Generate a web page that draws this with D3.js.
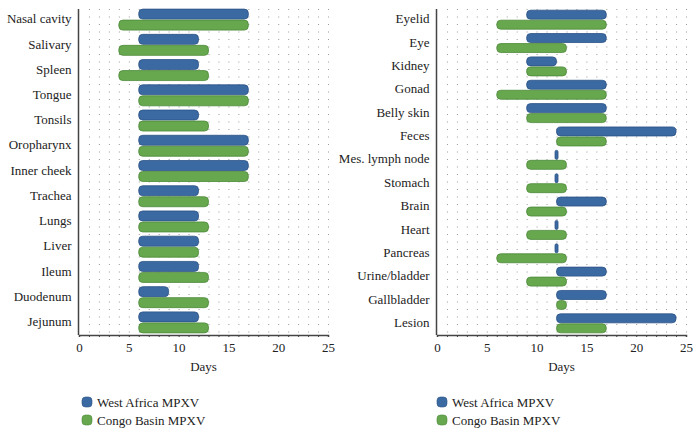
<!DOCTYPE html>
<html>
<head>
<meta charset="utf-8">
<script src="https://cdn.jsdelivr.net/npm/d3@7"></script>
</head>
<body style="margin:0;background:#fff">
<svg id="chart" width="700" height="432"></svg>
<script>
// ---- data (days) ----
const leftCategories = ["Nasal cavity","Salivary","Spleen","Tongue","Tonsils","Oropharynx","Inner cheek","Trachea","Lungs","Liver","Ileum","Duodenum","Jejunum"];
const leftWestStart  = [6,6,6,6,6,6,6,6,6,6,6,6,6];
const leftWestEnd    = [17,12,12,17,12,17,17,12,12,12,12,9,12];
const leftCongoStart = [4,4,4,6,6,6,6,6,6,6,6,6,6];
const leftCongoEnd   = [17,13,13,17,13,17,17,13,13,12,13,13,13];

const rightCategories = ["Eyelid","Eye","Kidney","Gonad","Belly skin","Feces","Mes. lymph node","Stomach","Brain","Heart","Pancreas","Urine/bladder","Gallbladder","Lesion"];
const rightWestStart  = [9,9,9,9,9,12,12,12,12,12,12,12,12,12];
const rightWestEnd    = [17,17,12,17,17,24,12,12,17,12,12,17,17,24];
const rightCongoStart = [6,6,9,6,9,12,9,9,9,9,6,9,12,12];
const rightCongoEnd   = [17,13,13,17,17,17,13,13,13,13,13,13,13,17];

const dayTicks = [0,5,10,15,20,25];
const seriesNames = ["West Africa MPXV","Congo Basin MPXV"];
const seriesColors = ["#3b6aa3","#67a74e"];
const seriesStroke = ["#2b5285","#4d8a3a"];

const FONT = "Liberation Serif";
const svg = d3.select("#chart");

function panel(cfg) {
  const g = svg.append("g");
  const x = d3.scaleLinear().domain([0,25]).range([cfg.x0, cfg.x1]);
  const y = d3.scaleBand().domain(cfg.cats).range([cfg.y0, cfg.y1]).padding(0);

  // dotted grid
  const gridDays = d3.range(1, 26);
  g.append("g").selectAll("line").data(gridDays).join("line")
    .attr("x1", d => x(d) + 0.5).attr("x2", d => x(d) + 0.5)
    .attr("y1", 9).attr("y2", cfg.y1)
    .attr("stroke", "#9a9a9a").attr("stroke-width", 1)
    .attr("stroke-dasharray", "1,6.5");

  const bh = cfg.barH, gap = 1;
  const rows = cfg.cats.map((c, i) => ({c, ws: cfg.ws[i], we: cfg.we[i], cs: cfg.cs[i], ce: cfg.ce[i]}));

  function bars(key0, key1, idx, offset) {
    g.append("g").selectAll("rect").data(rows).join("rect")
      .attr("x", d => { const w = x(d[key1]) - x(d[key0]); return w < 3 ? x(d[key0]) - 1.5 : x(d[key0]); })
      .attr("width", d => Math.max(3, x(d[key1]) - x(d[key0])))
      .attr("y", d => y(d.c) + y.bandwidth()/2 + offset)
      .attr("height", bh)
      .attr("rx", d => Math.min(4, Math.max(3, x(d[key1]) - x(d[key0]))/2))
      .attr("fill", seriesColors[idx])
      .attr("stroke", seriesStroke[idx]).attr("stroke-width", 0.8);
  }
  bars("ws","we",0, -bh - gap/2 + cfg.shift);
  bars("cs","ce",1, gap/2 + cfg.shift);

  // axes
  const ax = g.append("g").attr("transform", `translate(0,${cfg.y1 + 0.5})`)
    .call(d3.axisBottom(x).tickValues(d3.range(0,26)).tickSize(2)
      .tickFormat(d => dayTicks.includes(d) ? d : ""));
  ax.attr("font-family", FONT).attr("font-size", 13);
  ax.select(".domain").attr("stroke", "#444").attr("stroke-width", 1.5);
  ax.selectAll(".tick line").attr("stroke", "#444");
  ax.selectAll(".tick text").attr("font-size", 13).attr("dy", "0.95em")
    .attr("font-family", FONT).attr("fill", "#222");

  const ay = g.append("g").attr("transform", `translate(${cfg.x0 - 0.5},0)`)
    .call(d3.axisLeft(y).tickSize(0).tickPadding(7));
  ay.attr("font-family", FONT).attr("font-size", 13);
  ay.select(".domain").attr("stroke", "#444").attr("stroke-width", 1.5)
    .attr("d", `M0,9V${cfg.y1 + 0.5}`);
  ay.selectAll(".tick text").attr("font-size", 13)
    .attr("font-family", FONT).attr("fill", "#222");

  g.append("text").attr("x", (cfg.x0 + cfg.x1)/2).attr("y", 371)
    .attr("text-anchor", "middle").attr("font-size", 13).attr("fill", "#222")
    .attr("font-family", FONT).text("Days");

  // legend
  const lg = g.append("g").attr("transform", `translate(${cfg.legX},0)`);
  seriesNames.forEach((n, i) => {
    const cy = 402 + i * 18;
    lg.append("rect").attr("x", 0).attr("y", cy - 5).attr("width", 10).attr("height", 10)
      .attr("rx", 3.5).attr("fill", seriesColors[i]).attr("stroke", seriesStroke[i]).attr("stroke-width", 0.6);
    lg.append("text").attr("x", 15).attr("y", cy).attr("dy", "0.35em")
      .attr("font-size", 13).attr("fill", "#222").attr("font-family", FONT).text(n);
  });
}

panel({cats: leftCategories, ws: leftWestStart, we: leftWestEnd, cs: leftCongoStart, ce: leftCongoEnd,
       x0: 79, x1: 328, y0: 6.5, y1: 334.5, barH: 10, shift: 0.5, legX: 82});
panel({cats: rightCategories, ws: rightWestStart, we: rightWestEnd, cs: rightCongoStart, ce: rightCongoEnd,
       x0: 437, x1: 686, y0: 7.5, y1: 334.5, barH: 9, shift: 0.5, legX: 437});
</script>
</body>
</html>
